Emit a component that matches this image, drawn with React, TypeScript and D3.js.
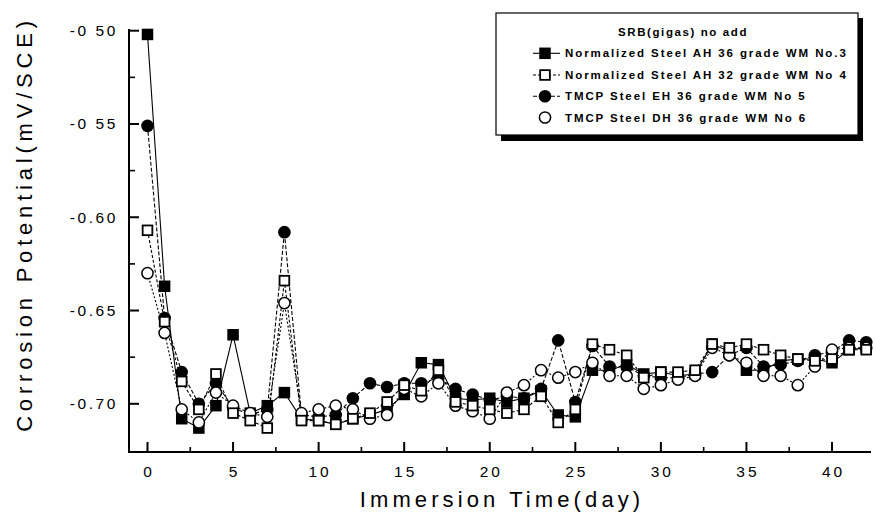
import React from "react";
import * as d3 from "d3";

const days: number[] = Array.from({ length: 43 }, (_, i) => i);

const ah36No3: number[] = [
  -0.502, -0.637, -0.708, -0.713, -0.701, -0.663, -0.705, -0.701, -0.694, -0.708,
  -0.709, -0.711, -0.708, -0.706, -0.703, -0.695, -0.678, -0.679, -0.697, -0.698,
  -0.697, -0.699, -0.697, -0.693, -0.706, -0.707, -0.682, -0.682, -0.679, -0.684,
  -0.683, -0.685, -0.684, -0.668, -0.672, -0.682, -0.682, -0.677, -0.676, -0.676,
  -0.678, -0.671, -0.670,
];
const ah32No4: number[] = [
  -0.607, -0.656, -0.688, -0.703, -0.684, -0.705, -0.709, -0.713, -0.634, -0.709,
  -0.709, -0.711, -0.708, -0.705, -0.699, -0.690, -0.693, -0.682, -0.699, -0.701,
  -0.703, -0.705, -0.703, -0.696, -0.710, -0.703, -0.668, -0.671, -0.674, -0.686,
  -0.683, -0.683, -0.682, -0.668, -0.670, -0.668, -0.671, -0.674, -0.676, -0.677,
  -0.676, -0.671, -0.671,
];
const eh36No5: number[] = [
  -0.551, -0.654, -0.683, -0.700, -0.689, -0.702, -0.706, -0.703, -0.608, -0.706,
  -0.707, -0.706, -0.697, -0.689, -0.691, -0.689, -0.689, -0.686, -0.692, -0.695,
  -0.698, -0.696, -0.697, -0.692, -0.666, -0.699, -0.669, -0.680, -0.680, -0.685,
  -0.686, -0.686, -0.684, -0.683, -0.674, -0.670, -0.680, -0.679, -0.677, -0.674,
  -0.672, -0.666, -0.667,
];
const dh36No6: number[] = [
  -0.630, -0.662, -0.703, -0.710, -0.694, -0.701, -0.705, -0.707, -0.646, -0.705,
  -0.703, -0.701, -0.703, -0.708, -0.706, -0.692, -0.696, -0.689, -0.701, -0.704,
  -0.708, -0.694, -0.690, -0.682, -0.686, -0.683, -0.678, -0.685, -0.685, -0.692,
  -0.690, -0.687, -0.685, -0.670, -0.674, -0.678, -0.685, -0.685, -0.690, -0.680,
  -0.671, -0.670, -0.670,
];

const xTicks: number[] = [0, 5, 10, 15, 20, 25, 30, 35, 40];
const xMinor: number[] = [2.5, 7.5, 12.5, 17.5, 22.5, 27.5, 32.5, 37.5];
const yTicks: number[] = [-0.5, -0.55, -0.6, -0.65, -0.7];
const yTickLabels: string[] = ["-0 50", "-0 55", "-0.60", "-0.65", "-0.70"];
const yMinor: number[] = [-0.525, -0.575, -0.625, -0.675];

const legendTitle = "SRB(gigas) no add";
const seriesNames: string[] = [
  "Normalized Steel AH 36 grade WM No.3",
  "Normalized Steel AH 32 grade WM No 4",
  "TMCP Steel EH 36 grade WM No 5",
  "TMCP Steel DH 36 grade WM No 6",
];

type Kind = "fsq" | "osq" | "fci" | "oci";
const seriesValues: number[][] = [ah36No3, ah32No4, eh36No5, dh36No6];
const seriesKinds: Kind[] = ["fsq", "osq", "fci", "oci"];
const dashes: (string | undefined)[] = [undefined, "3,2", "4,2", "2,2"];

const FONT = "'Liberation Sans', Arial, Helvetica, sans-serif";

function Marker({ kind, cx, cy }: { kind: Kind; cx: number; cy: number }) {
  const s = 11.5;
  if (kind === "fsq")
    return <rect x={cx - s / 2} y={cy - s / 2} width={s} height={s} fill="#000" />;
  if (kind === "osq")
    return (
      <rect x={cx - s / 2 + 0.9} y={cy - s / 2 + 0.9} width={s - 1.8} height={s - 1.8}
        fill="#fff" stroke="#000" strokeWidth={1.8} />
    );
  if (kind === "fci") return <circle cx={cx} cy={cy} r={6.3} fill="#000" />;
  return <circle cx={cx} cy={cy} r={5.6} fill="#fff" stroke="#000" strokeWidth={1.5} />;
}

export default function App() {
  const W = 876, H = 527;
  const x = d3.scaleLinear().domain([0, 40]).range([147.5, 832]);
  const y = d3.scaleLinear().domain([-0.5, -0.7]).range([30.7, 403.8]);
  const axisLeft = 129, axisBottom = 452, axisTop = 30, axisRight = 871;

  const line = d3
    .line<number>()
    .x((_, i) => x(days[i]))
    .y((v) => y(v));

  const drawOrder = [0, 2, 3, 1];

  const lgX = 496, lgY = 13, lgW = 362, lgH = 122;
  const rowY = [53.3, 75, 96.3, 117.5];

  return (
    <svg width={W} height={H} style={{ position: "absolute", left: 0, top: 0, background: "#fff" }}
      fontFamily={FONT}>
      <rect x={0} y={0} width={W} height={H} fill="#fff" />
      {/* series lines */}
      {seriesValues.map((vals, si) => (
        <path key={"l" + si} d={line(vals) || ""} fill="none" stroke="#000"
          strokeWidth={1.1} strokeDasharray={dashes[si]} />
      ))}
      {/* markers */}
      {drawOrder.map((si) =>
        seriesValues[si].map((v, i) => (
          <Marker key={si + "-" + i} kind={seriesKinds[si]} cx={x(days[i])} cy={y(v)} />
        ))
      )}
      {/* axes */}
      <line x1={axisLeft} x2={axisLeft} y1={axisTop - 1} y2={axisBottom + 1} stroke="#000" strokeWidth={2} />
      <line x1={axisLeft - 1} x2={axisRight} y1={axisBottom} y2={axisBottom} stroke="#000" strokeWidth={2} />
      {yTicks.map((t, i) => (
        <g key={"yt" + i}>
          <line x1={axisLeft} x2={axisLeft + 10} y1={y(t)} y2={y(t)} stroke="#000" strokeWidth={2} />
          <text x={118} y={y(t) + 5.5} textAnchor="end" fontSize={15.5} letterSpacing={2.6} fill="#000">
            {yTickLabels[i]}
          </text>
        </g>
      ))}
      {yMinor.map((t, i) => (
        <line key={"ym" + i} x1={axisLeft} x2={axisLeft + 6} y1={y(t)} y2={y(t)} stroke="#000" strokeWidth={1.6} />
      ))}
      {xTicks.map((t, i) => (
        <g key={"xt" + i}>
          <line x1={x(t)} x2={x(t)} y1={axisBottom} y2={axisBottom - 10} stroke="#000" strokeWidth={2} />
          <text x={x(t) + 1.5} y={477} textAnchor="middle" fontSize={15.5} letterSpacing={3} fill="#000">
            {String(t)}
          </text>
        </g>
      ))}
      {xMinor.map((t, i) => (
        <line key={"xm" + i} x1={x(t)} x2={x(t)} y1={axisBottom} y2={axisBottom - 5} stroke="#000" strokeWidth={1.6} />
      ))}
      {/* axis titles */}
      <text x={502} y={507} textAnchor="middle" fontSize={22} letterSpacing={4.1} fill="#000">
        Immersion Time(day)
      </text>
      <text transform={`translate(32,${224}) rotate(-90)`} textAnchor="middle" fontSize={22}
        letterSpacing={4.8} fill="#000">
        Corrosion Potential(mV/SCE)
      </text>
      {/* legend */}
      <rect x={lgX + 5} y={lgY + 5} width={lgW} height={lgH + 1} fill="#000" />
      <rect x={lgX} y={lgY} width={lgW} height={lgH} fill="#fff" stroke="#000" strokeWidth={1.2} />
      <text x={683} y={36} textAnchor="middle" fontSize={11.5} fontWeight="bold" letterSpacing={1.6} fill="#000">
        {legendTitle}
      </text>
      {seriesNames.map((name, si) => (
        <g key={"lg" + si}>
          {si < 3 && (
            <line x1={533} x2={560} y1={rowY[si]} y2={rowY[si]} stroke="#000" strokeWidth={1.1}
              strokeDasharray={dashes[si]} />
          )}
          <Marker kind={seriesKinds[si]} cx={545} cy={rowY[si]} />
          <text x={565} y={rowY[si] + 4} fontSize={11.5} fontWeight="bold" letterSpacing={1.9} fill="#000">
            {name}
          </text>
        </g>
      ))}
    </svg>
  );
}
